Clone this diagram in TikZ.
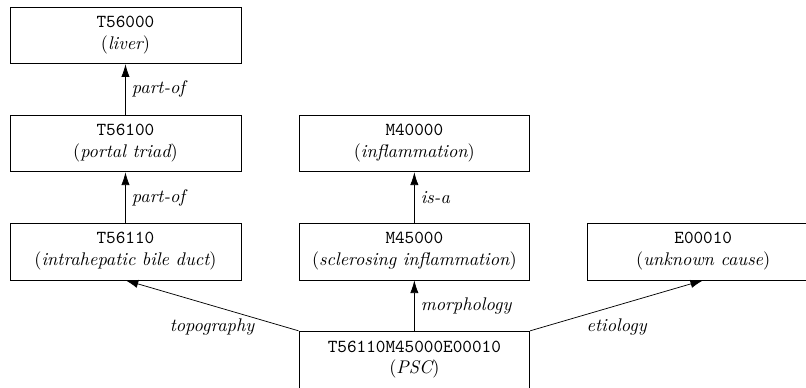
\documentclass[tikz,border=0pt]{standalone}
\usepackage{tikz}
\usetikzlibrary{arrows.meta,positioning}
\tikzset{
  codebox/.style={rectangle,draw=black,thin,align=center,font=\normalsize,minimum width=126pt,minimum height=31pt,inner sep=3pt},
  relarr/.style={-{Latex[length=7pt,width=4.5pt]},thin,color=black},
  rellab/.style={font=\normalsize\itshape}
}

\begin{document}
\begin{tikzpicture}[node distance=27.6pt and 31.3pt]
  % crop as in the original: right and bottom edges cut off
  \useasboundingbox (-68.5pt,19.3pt) rectangle ++(440pt,-211.3pt);
  \node[codebox] (liver) at (0,0) {\texttt{T56000}\\$(\textit{liver})$};
  \node[codebox,below=of liver] (triad) {\texttt{T56100}\\$(\textit{portal triad})$};
  \node[codebox,below=of triad] (duct) {\texttt{T56110}\\$(\textit{intrahepatic bile duct})$};
  \node[codebox,right=of triad] (infl) {\texttt{M40000}\\$(\textit{inflammation})$};
  \node[codebox,below=of infl] (scler) {\texttt{M45000}\\$(\textit{sclerosing inflammation})$};
  \node[codebox,right=of scler] (cause) {\texttt{E00010}\\$(\textit{unknown cause})$};
  \node[codebox,below=of scler] (psc) {\texttt{T56110M45000E00010}\\$(\textit{PSC})$};
  \draw[relarr] (triad) -- node[rellab,right] {part-of} (liver);
  \draw[relarr] (duct) -- node[rellab,right] {part-of} (triad);
  \draw[relarr] (scler) -- node[rellab,right] {is-a} (infl);
  \draw[relarr] (psc.north west) -- node[rellab,below=3.7pt] {topography} (duct.south);
  \draw[relarr] (psc) -- node[rellab,right] {morphology} (scler);
  \draw[relarr] (psc.north east) -- node[rellab,below=3.7pt] {etiology} (cause.south);
\end{tikzpicture}
\end{document}
